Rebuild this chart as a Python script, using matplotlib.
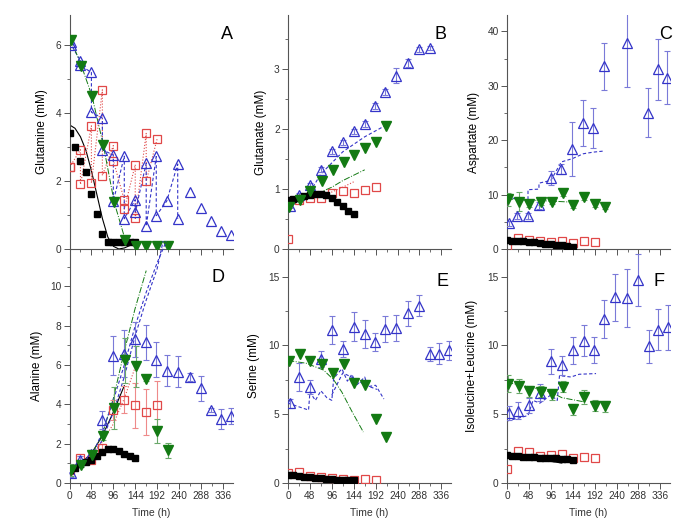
import matplotlib
matplotlib.use('Agg')
import matplotlib.pyplot as plt
import numpy as np
from matplotlib.ticker import MultipleLocator

plt.rcParams['font.family'] = ['Liberation Sans', 'DejaVu Sans']

# ---------------- data ----------------
t_black = [0, 12, 24, 36, 48, 60, 72, 84, 96, 108, 120, 132, 144]
t_red = [0, 24, 48, 72, 96, 120, 144, 168, 192]
t_blue = [4, 24, 48, 72, 96, 120, 144, 168, 190, 213, 237, 263, 288, 310, 331, 353]
t_green = [3, 26, 49, 74, 98, 122, 145, 168, 192, 215]

# Panel A - Glutamine
black_A = [3.4, 3.0, 2.6, 2.27, 1.62, 1.03, 0.45, 0.22, 0.2, 0.2, 0.2, 0.22, 0.22]
fit_t_A = [0, 12, 24, 36, 48, 60, 72, 84, 96, 108, 120, 132, 144]
fit_A = [3.65, 3.55, 3.3, 2.9, 2.3, 1.6, 0.9, 0.35, 0.08, 0.0, 0.03, 0.1, 0.2]
red_A1 = [2.4, 2.92, 3.62, 4.68, 3.04, 1.44, 2.48, 3.4, 3.24]
red_A2 = [2.4, 1.9, 1.94, 2.16, 2.6, 1.17, 0.9, 1.99, np.nan]
blue_A1 = [6.1, 5.53, 5.19, 3.85, 2.76, 2.73, 1.45, 2.52, 2.72, 1.41, 2.5, 1.69, 1.2, 0.81, 0.54, 0.42]
blue_A2 = [6.0, 5.4, 4.02, 2.92, 1.4, 0.89, 1.09, 0.67, 0.98, np.nan, 0.89, np.nan, np.nan, np.nan, np.nan, np.nan]
green_A = [6.15, 5.39, 4.51, 3.06, 1.37, 0.27, 0.08, 0.08, 0.1, 0.1]

# Panel B - Glutamate
black_B = [0.82, 0.83, 0.85, 0.88, 0.9, 0.92, 0.92, 0.9, 0.85, 0.78, 0.71, 0.64, 0.585]
red_B = [0.16, 0.81, 0.85, 0.85, 0.94, 0.96, 0.93, 0.98, 1.04]
blue_B = [0.72, 0.9, 1.07, 1.32, 1.63, 1.78, 1.96, 2.08, 2.38, 2.62, 2.89, 3.1, 3.33, 3.35]
blue_B_err = [0.03, 0.03, 0.03, 0.04, 0.04, 0.04, 0.04, 0.05, 0.05, 0.05, 0.12, 0.06, 0.04, 0.04]
green_B = [0.7, 0.82, 0.96, 1.14, 1.31, 1.45, 1.56, 1.68, 1.79, 2.05]
line_t_B_blue = [0, 48, 72, 120, 168, 228]
line_B_blue = [0.67, 0.95, 1.25, 1.62, 1.87, 2.12]
line_t_B_green = [0, 48, 96, 120, 168]
line_B_green = [0.72, 0.87, 1.03, 1.14, 1.32]
line_t_B_red = [0, 48, 96, 120, 144]
line_B_red = [0.8, 0.86, 0.95, 1.03, 1.12]

# Panel C - Aspartate
black_C = [1.65, 1.55, 1.45, 1.4, 1.3, 1.2, 1.1, 1.0, 0.9, 0.8, 0.7, 0.55, 0.45]
red_C = [0.6, 2.0, 1.7, 1.5, 1.3, 1.5, 1.1, 1.4, 1.2]
t_blue_C = [4, 22, 46, 70, 96, 119, 143, 167, 189, 212, 262, 308, 331, 351]
blue_C = [4.7, 6.1, 6.1, 8.0, 13.0, 14.7, 18.4, 23.1, 22.2, 33.6, 37.9, 25.0, 33.0, 31.5]
blue_C_err = [0.4, 0.5, 0.5, 0.6, 1.3, 1.0, 5.0, 4.2, 3.7, 4.3, 8.2, 4.5, 5.6, 4.9]
green_C = [9.1, 8.7, 8.3, 8.6, 8.7, 10.2, 8.0, 9.5, 8.2, 7.8]
green_C_err = [1.2, 1.7, 0.5, 0.5, 0.5, 0.5, 0.5, 0.5, 0.4, 0.4]
line_t_C_blue = [0, 46, 46, 70, 70, 96, 119, 143, 167, 189, 212]
line_C_blue = [9.5, 8.9, 10.9, 11.0, 12.1, 12.6, 16.0, 16.6, 17.5, 17.8, 18.0]
line_t_C_green = [0, 48, 96, 145]
line_C_green = [9.2, 9.0, 8.8, 8.6]

# Panel D - Alanine
black_D = [0.68, 0.76, 0.95, 1.05, 1.19, 1.36, 1.56, 1.73, 1.75, 1.64, 1.47, 1.36, 1.27]
red_D = [0.68, 1.27, 1.15, 1.78, 3.7, 4.24, 3.95, 3.61, 3.95]
red_D_err = [0.1, 0.1, 0.1, 0.2, 0.5, 0.7, 1.15, 1.15, 1.25]
blue_D = [0.5, 1.19, 1.5, 3.2, 6.47, 6.58, 7.3, 7.15, 6.27, 5.71, 5.66, 5.39, 4.81, 3.69, 3.27, 3.39]
blue_D_err = [0.2, 0.2, 0.2, 0.45, 1.0, 1.2, 0.9, 0.9, 0.9, 0.8, 0.8, 0.2, 0.65, 0.1, 0.5, 0.4]
green_D = [0.68, 0.93, 1.44, 2.37, 3.81, 6.24, 5.93, 5.29, 2.63, 1.66]
green_D_err = [0.3, 0.1, 0.1, 0.2, 1.05, 1.15, 1.05, 0.1, 0.6, 0.37]
line_t_D_black = [0, 24, 48, 72, 96, 120]
line_D_black = [0.7, 1.0, 1.5, 2.4, 3.6, 4.95]
line_t_D_red = [0, 24, 48, 72, 96, 120, 144]
line_D_red = [0.75, 1.05, 1.45, 2.1, 3.0, 4.3, 5.9]
line_t_D_green = [0, 48, 72, 96, 120, 144, 168]
line_D_green = [0.7, 1.4, 2.5, 4.3, 6.7, 8.9, 10.8]
line_t_D_blue1 = [0, 48, 72, 96, 120, 144, 168, 192, 212]
line_D_blue1 = [0.5, 1.3, 2.6, 4.2, 6.0, 8.0, 9.7, 11.2, 12.3]
line_t_D_blue2 = [0, 48, 72, 96, 120, 144, 168, 192, 205]
line_D_blue2 = [0.45, 1.2, 2.2, 3.6, 5.4, 7.5, 9.3, 10.9, 12.3]

# Panel E - Serine
black_E = [0.6, 0.55, 0.5, 0.45, 0.42, 0.38, 0.35, 0.3, 0.27, 0.25, 0.22, 0.2, 0.19]
red_E = [0.72, 0.77, 0.53, 0.43, 0.35, 0.29, 0.24, 0.29, 0.24]
blue_E = [5.78, 7.7, 6.98, 9.0, 11.1, 9.75, 11.36, 10.83, 10.23, 11.2, 11.27, 12.33, 12.88, 9.39, 9.39, 9.63]
blue_E_err = [0.3, 1.0, 0.5, 0.6, 1.0, 0.6, 1.05, 1.0, 0.65, 0.95, 0.95, 0.9, 0.75, 0.5, 0.75, 0.7]
green_E = [8.86, 9.39, 8.86, 8.62, 7.99, 8.67, 7.27, 7.15, 4.65, 3.37]
line_t_E_green = [0, 40, 78, 100, 118, 140, 165]
line_E_green = [8.9, 8.7, 8.2, 7.5, 6.6, 5.2, 3.7]
line_t_E_blue1 = [0, 45, 48, 60, 72, 85, 96, 100, 118, 130, 140, 150, 168, 175, 192, 210]
line_E_blue1 = [5.8, 5.3, 6.6, 6.0, 6.7, 6.2, 6.0, 7.6, 8.3, 7.4, 7.9, 7.1, 7.7, 7.0, 7.1, 6.1]
line_t_E_blue2 = [96, 120, 145, 170, 195]
line_E_blue2 = [6.4, 8.0, 7.6, 7.1, 6.8]

# Panel F - Isoleucine+Leucine
black_F = [2.0, 1.97, 1.94, 1.92, 1.9, 1.87, 1.85, 1.83, 1.8, 1.78, 1.75, 1.72, 1.69]
red_F = [1.01, 2.29, 2.26, 1.93, 2.0, 2.12, 1.81, 1.88, 1.85]
blue_F = [5.06, 5.25, 5.66, 6.57, 8.84, 8.55, 9.63, 10.35, 9.68, 11.92, 13.48, 13.44, 14.74, 9.94, 11.15, 11.3]
blue_F_err = [0.5, 0.6, 0.55, 0.6, 0.9, 0.7, 0.95, 1.15, 0.95, 1.4, 1.7, 2.1, 1.9, 1.2, 1.5, 1.65]
green_F = [7.22, 7.05, 6.67, 6.62, 6.45, 6.98, 5.35, 6.26, 5.63, 5.59]
green_F_err = [0.6, 0.5, 0.4, 0.4, 0.4, 0.4, 0.4, 0.5, 0.4, 0.4]
line_t_F_green = [0, 48, 96, 120, 168]
line_F_green = [7.3, 7.0, 6.6, 6.2, 5.9]
line_t_F_blue = [0, 46, 57, 72, 96, 110, 115, 140, 158, 195]
line_F_blue = [4.5, 4.9, 6.0, 5.8, 6.4, 6.0, 7.8, 7.7, 7.9, 7.95]
line_t_F_black = [0, 60, 120]
line_F_black = [2.03, 1.75, 1.45]

x_ticks = [0, 48, 96, 144, 192, 240, 288, 336]

# ---------------- style ----------------
BLUE = '#3434c8'
BLUE_E = '#7a7ad8'
RED = '#e04848'
RED_E = '#ee8a8a'
GREEN = '#137a13'
GREEN_E = '#6aa86a'
AXC = '#555555'

fig = plt.figure(figsize=(6.98, 5.28), dpi=100)
W = 163 / 698
H = 234 / 528
lefts = [69.5 / 698, 288 / 698, 507 / 698]
bottoms = [1 - 249 / 528, 1 - 483 / 528]

axes = {}
letters = ['A', 'B', 'C', 'D', 'E', 'F']
for r in range(2):
    for c in range(3):
        ax = fig.add_axes([lefts[c], bottoms[r], W, H])
        axes[letters[r * 3 + c]] = ax
        ax.set_facecolor('none')
        for s in ['top', 'right']:
            ax.spines[s].set_visible(False)
        for s in ['left', 'bottom']:
            ax.spines[s].set_color(AXC)
            ax.spines[s].set_linewidth(0.8)
        ax.set_xlim(0, 357)
        ax.set_xticks(x_ticks)
        ax.xaxis.set_minor_locator(MultipleLocator(24))
        ax.tick_params(which='major', direction='out', length=4, width=0.7, color=AXC,
                       labelsize=7.3, labelcolor='#333333', pad=2)
        ax.tick_params(which='minor', direction='out', length=2.5, width=0.6, color=AXC)
        if r == 0:
            ax.tick_params(axis='x', labelbottom=False)
        else:
            ax.set_xlabel('Time (h)', fontsize=7.5, color='#333333', labelpad=5)

LW = 0.8


def scat(ax, t, y, kind, yerr=None, z=3):
    if kind == 'black':
        ax.plot(t, y, 's', ms=4.8, color='black', mec='black', zorder=z + 2)
    elif kind == 'red':
        if yerr is not None:
            ax.errorbar(t, y, yerr=yerr, fmt='none', ecolor=RED_E, elinewidth=0.8, capsize=2.5, capthick=0.8, zorder=z)
        ax.plot(t, y, 's', ms=5.2, mfc='none', mec=RED, mew=0.9, zorder=z + 1)
    elif kind == 'blue':
        if yerr is not None:
            ax.errorbar(t, y, yerr=yerr, fmt='none', ecolor=BLUE_E, elinewidth=0.8, capsize=2.5, capthick=0.8, zorder=z)
        ax.plot(t, y, '^', ms=7, mfc='none', mec=BLUE, mew=0.9, zorder=z + 1)
    elif kind == 'green':
        if yerr is not None:
            ax.errorbar(t, y, yerr=yerr, fmt='none', ecolor=GREEN_E, elinewidth=0.8, capsize=2.5, capthick=0.8, zorder=z)
        ax.plot(t, y, 'v', ms=6.5, color=GREEN, mec=GREEN, zorder=z + 3)


def zig(t, a, b):
    tt, yy = [], []
    for ti, ai, bi in zip(t, a, b):
        tt.append(ti); yy.append(ai)
        if not np.isnan(bi):
            tt.append(ti); yy.append(bi)
    return tt, yy


# ---- A ----
ax = axes['A']
ax.set_ylim(0, 6.88)
ax.set_yticks([0, 2, 4, 6])
ax.yaxis.set_minor_locator(MultipleLocator(1))
ax.plot(fit_t_A, fit_A, '-', color='black', lw=LW, zorder=2)
rt, ry = zig(t_red, red_A1, red_A2)
ax.plot(rt, ry, ':', color=RED, lw=LW, zorder=2)
bt, by = zig(t_blue[:11], blue_A1[:11], blue_A2[:11])
ax.plot(bt, by, '--', color=BLUE, lw=LW, dashes=(3, 2), zorder=2)
ax.plot(t_green[:7], green_A[:7], '-.', color=GREEN, lw=0.7, zorder=2)
scat(ax, t_black, black_A, 'black')
scat(ax, t_red, red_A1, 'red')
scat(ax, t_red, red_A2, 'red')
scat(ax, t_blue, blue_A1, 'blue')
scat(ax, t_blue, blue_A2, 'blue')
scat(ax, t_green, green_A, 'green')
ax.set_ylabel('Glutamine (mM)', fontsize=8.5)

# ---- B ----
ax = axes['B']
ax.set_ylim(0, 3.9)
ax.set_yticks([0, 1, 2, 3])
ax.yaxis.set_minor_locator(MultipleLocator(0.5))
ax.plot(line_t_B_blue, line_B_blue, '--', color=BLUE, lw=LW, dashes=(3, 2), zorder=2)
ax.plot(line_t_B_green, line_B_green, '-.', color=GREEN, lw=0.7, zorder=2)
ax.plot(line_t_B_red, line_B_red, ':', color=RED, lw=LW, zorder=2)
scat(ax, t_black, black_B, 'black')
scat(ax, t_red, red_B, 'red')
scat(ax, t_blue[:14], blue_B, 'blue', blue_B_err)
scat(ax, t_green, green_B, 'green')
ax.set_ylabel('Glutamate (mM)', fontsize=8.5)

# ---- C ----
ax = axes['C']
ax.set_ylim(0, 43)
ax.set_yticks([0, 10, 20, 30, 40])
ax.yaxis.set_minor_locator(MultipleLocator(5))
ax.plot(line_t_C_blue, line_C_blue, '--', color=BLUE, lw=LW, dashes=(3, 2), zorder=2)
ax.plot(line_t_C_green, line_C_green, '-.', color=GREEN, lw=0.7, zorder=2)
scat(ax, t_black, black_C, 'black')
scat(ax, t_red, red_C, 'red')
scat(ax, t_blue_C, blue_C, 'blue', blue_C_err)
scat(ax, t_green, green_C, 'green', green_C_err)
ax.set_ylabel('Aspartate (mM)', fontsize=8.5)

# ---- D ----
ax = axes['D']
ax.set_ylim(0, 11.9)
ax.set_yticks([0, 2, 4, 6, 8, 10])
ax.yaxis.set_minor_locator(MultipleLocator(1))
ax.plot(line_t_D_black, line_D_black, '-', color='black', lw=LW, zorder=2)
ax.plot(line_t_D_red, line_D_red, ':', color=RED, lw=LW, zorder=2)
ax.plot(line_t_D_green, line_D_green, '-.', color=GREEN, lw=0.7, zorder=2)
ax.plot(line_t_D_blue1, line_D_blue1, '--', color=BLUE, lw=LW, dashes=(3, 2), zorder=2, clip_on=False)
ax.plot(line_t_D_blue2, line_D_blue2, '--', color=BLUE, lw=LW, dashes=(3, 2), zorder=2, clip_on=False)
scat(ax, t_black, black_D, 'black')
scat(ax, t_red, red_D, 'red', red_D_err)
scat(ax, t_blue, blue_D, 'blue', blue_D_err)
scat(ax, t_green, green_D, 'green', green_D_err)
ax.set_ylabel('Alanine (mM)', fontsize=8.5)

# ---- E ----
ax = axes['E']
ax.set_ylim(0, 17)
ax.set_yticks([0, 5, 10, 15])
ax.yaxis.set_minor_locator(MultipleLocator(2.5))
ax.plot(line_t_E_green, line_E_green, '-.', color=GREEN, lw=0.7, zorder=2)
ax.plot(line_t_E_blue1, line_E_blue1, '--', color=BLUE, lw=LW, dashes=(3, 2), zorder=2)
ax.plot(line_t_E_blue2, line_E_blue2, '--', color=BLUE, lw=LW, dashes=(3, 2), zorder=2)
scat(ax, t_black, black_E, 'black')
scat(ax, t_red, red_E, 'red')
scat(ax, t_blue, blue_E, 'blue', blue_E_err)
scat(ax, t_green, green_E, 'green')
ax.set_ylabel('Serine (mM)', fontsize=8.5)

# ---- F ----
ax = axes['F']
ax.set_ylim(0, 17)
ax.set_yticks([0, 5, 10, 15])
ax.yaxis.set_minor_locator(MultipleLocator(2.5))
ax.plot(line_t_F_green, line_F_green, '-.', color=GREEN, lw=0.7, zorder=2)
ax.plot(line_t_F_blue, line_F_blue, '--', color=BLUE, lw=LW, dashes=(3, 2), zorder=2)
ax.plot(line_t_F_black, line_F_black, '-', color='black', lw=LW, zorder=2)
scat(ax, t_black, black_F, 'black')
scat(ax, t_red, red_F, 'red')
scat(ax, t_blue, blue_F, 'blue', blue_F_err)
scat(ax, t_green, green_F, 'green', green_F_err)
ax.set_ylabel('Isoleucine+Leucine (mM)', fontsize=8.5)

# y-label positions (pixel x of label centre -> right edge anchor)
lab_x = {'A': 43, 'B': 262, 'C': 475, 'D': 38, 'E': 255, 'F': 473}
ax_left_px = {'A': 69.5, 'B': 288, 'C': 507, 'D': 69.5, 'E': 288, 'F': 507}
for k, ax in axes.items():
    ax.yaxis.set_label_coords((lab_x[k] + 5 - ax_left_px[k]) / 163, 0.5)

# panel letters
letter_pos = {'A': (0.965, 0.915), 'B': (0.935, 0.915), 'C': (0.975, 0.915),
              'D': (0.91, 0.88), 'E': (0.95, 0.86), 'F': (0.93, 0.86)}
for k, ax in axes.items():
    x, y = letter_pos[k]
    ax.text(x, y, k, transform=ax.transAxes, fontsize=13, ha='center', va='center', zorder=10)

fig.savefig('out.png', dpi=100)
